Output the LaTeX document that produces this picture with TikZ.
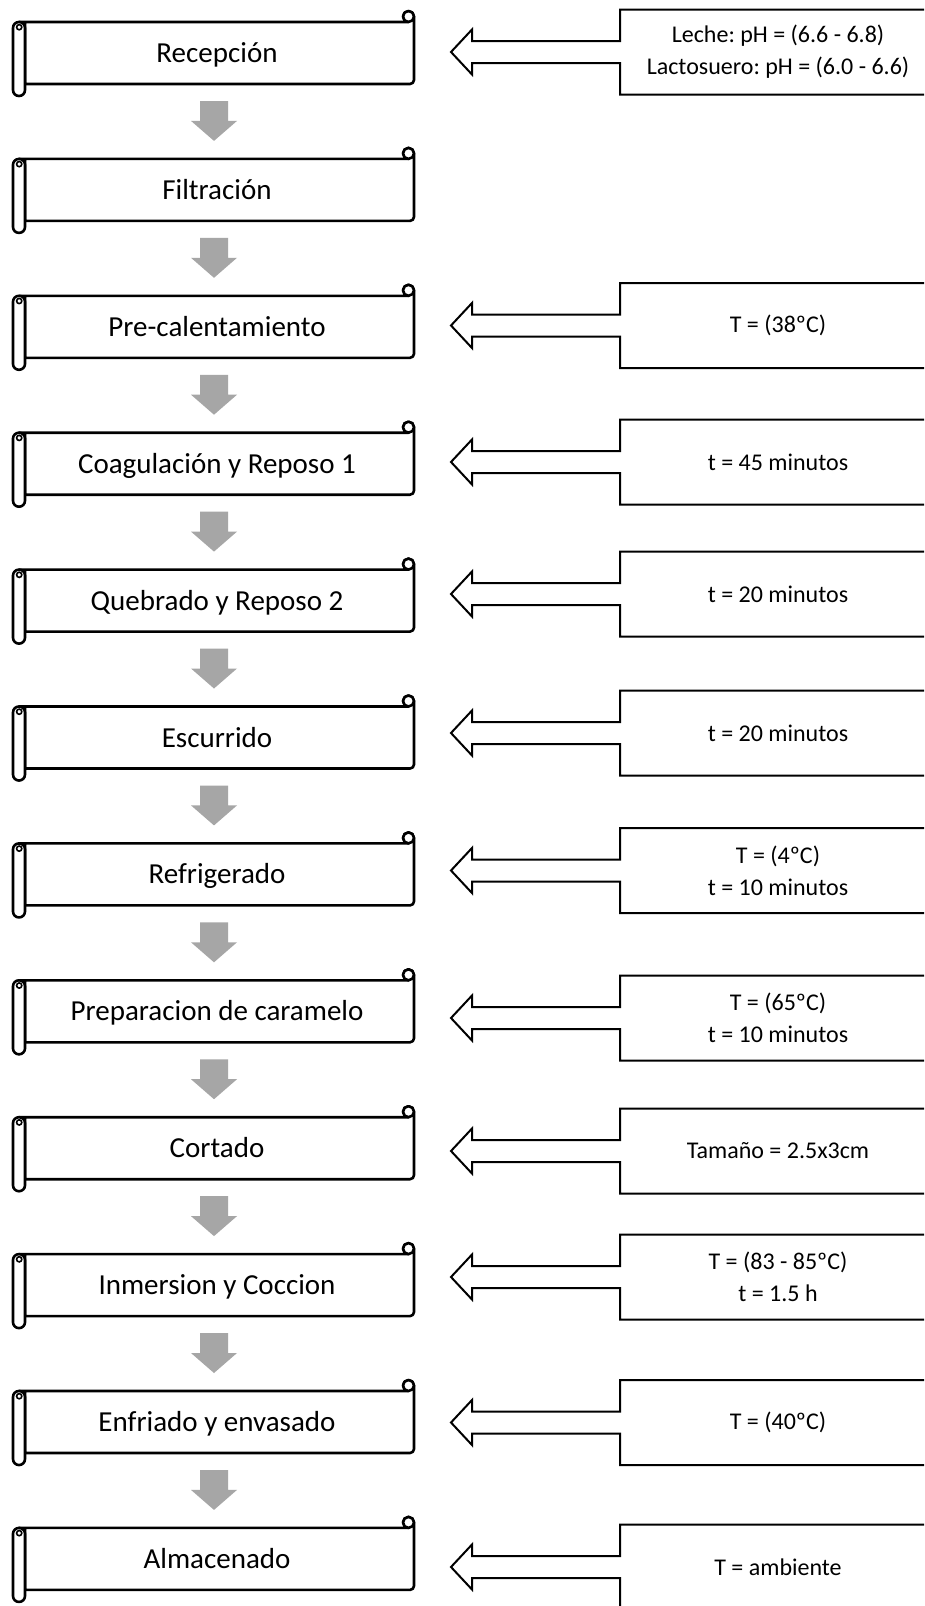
\documentclass[tikz,border=0pt]{standalone}
\usepackage{fontspec}
\setmainfont{Carlito}
\usetikzlibrary{calc}
\definecolor{flowgray}{RGB}{166,166,166}
\frenchspacing

% One process step drawn as a horizontal scroll; #1 name, #2 top of the body, #3 label
\newcommand\procscroll[3]{%
  \begin{scope}[shift={(13,#2)}]
    \draw[scrolline, fill=white]
      (6,0) -- (395.5,0) arc[start angle=90, end angle=360, radius=5.5]
      -- (401,58) arc[start angle=0, end angle=90, radius=4] -- (12,62) -- (12,0) -- cycle;
    \draw[scrolline, fill=white] (395.5,-5.5) circle[radius=5.5];
    \draw[scrolline, fill=white, rounded corners=5.9] (0,0) rectangle (12,74);
    \draw[line width=1.6pt] (6.2,5.2) circle[radius=2.6];
    \node[steptext, anchor=base] (#1) at (204,40.5) {#3};
    \coordinate (#1-s) at (201,79);
    \coordinate (#1-n) at (201,-18);
  \end{scope}}

% Grey block arrow from one step down to the next
\newcommand\flowarrow[2]{%
  \fill[flowgray] ($(#1-s)+(-14,0)$) -- ($(#1-s)+(14,0)$) -- ($(#2-n)+(14,-20)$)
    -- ($(#2-n)+(23,-20)$) -- (#2-n) -- ($(#2-n)+(-23,-20)$) -- ($(#2-n)+(-14,-20)$) -- cycle;}

% Parameter box with a hollow arrow pointing left; #1 name, #2 centre height, #3 text
\newcommand\notebox[3]{%
  \draw[callline, fill=white]
    (620,#2-42.5) -- (940,#2-42.5) -- (940,#2+42.5) -- (620,#2+42.5)
    -- (620,#2+11) -- (472,#2+11) -- (472,#2+22.5) -- (451,#2)
    -- (472,#2-22.5) -- (472,#2-11) -- (620,#2-11) -- cycle;
  \node[notetext] (#1) at (778,#2) {#3};}

\begin{document}
\begin{tikzpicture}[x=1pt, y=-1pt,
  scrolline/.style={line width=2.6pt, line join=round},
  callline/.style={line width=2pt, line join=miter},
  steptext/.style={font=\fontsize{29}{35}\selectfont, inner sep=0pt},
  notetext/.style={font=\fontsize{24}{32}\selectfont, align=center, inner sep=0pt}]
\useasboundingbox (0,0) rectangle (924,1606);
\clip (0,0) rectangle (924,1606);
\fill[white] (0,0) rectangle (924,1606);

\procscroll{s1}{22}{Recepción}
\procscroll{s2}{158.9}{Filtración}
\procscroll{s3}{295.8}{Pre-calentamiento}
\procscroll{s4}{432.7}{Coagulación y Reposo 1}
\procscroll{s5}{569.6}{Quebrado y Reposo 2}
\procscroll{s6}{706.5}{Escurrido}
\procscroll{s7}{843.4}{Refrigerado}
\procscroll{s8}{980.3}{Preparacion de caramelo}
\procscroll{s9}{1117.2}{Cortado}
\procscroll{s10}{1254.1}{Inmersion y Coccion}
\procscroll{s11}{1391}{Enfriado y envasado}
\procscroll{s12}{1527.9}{Almacenado}

\flowarrow{s1}{s2}
\flowarrow{s2}{s3}
\flowarrow{s3}{s4}
\flowarrow{s4}{s5}
\flowarrow{s5}{s6}
\flowarrow{s6}{s7}
\flowarrow{s7}{s8}
\flowarrow{s8}{s9}
\flowarrow{s9}{s10}
\flowarrow{s10}{s11}
\flowarrow{s11}{s12}

\notebox{n1}{52}{Leche: pH = (6.6 - 6.8)\\Lactosuero: pH = (6.0 - 6.6)}
\notebox{n3}{325.5}{T = (38ºC)}
\notebox{n4}{462}{t = 45 minutos}
\notebox{n5}{594}{t = 20 minutos}
\notebox{n6}{733}{t = 20 minutos}
\notebox{n7}{870.5}{T = (4ºC)\\t = 10 minutos}
\notebox{n8}{1018}{T = (65ºC)\\t = 10 minutos}
\notebox{n9}{1151}{Tamaño = 2.5x3cm}
\notebox{n10}{1277}{T = (83 - 85ºC)\\t = 1.5 h}
\notebox{n11}{1422.5}{T = (40ºC)}
\notebox{n12}{1567}{T = ambiente}
\end{tikzpicture}
\end{document}
